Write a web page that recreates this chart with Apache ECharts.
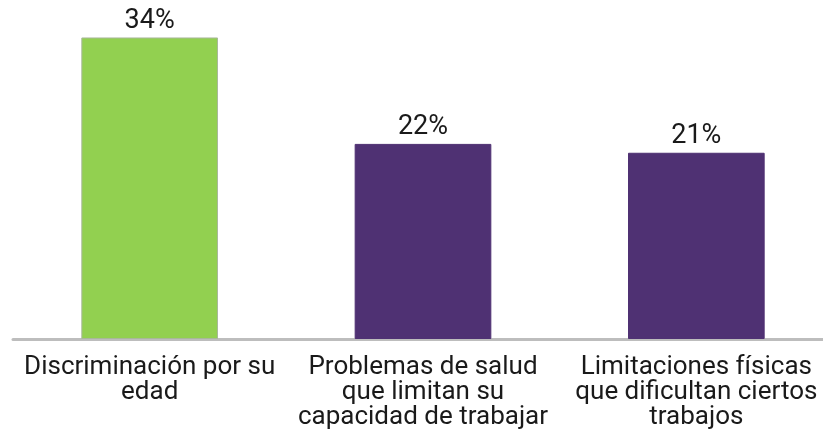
<!DOCTYPE html>
<html>
<head>
<meta charset="utf-8">
<script src="https://cdn.jsdelivr.net/npm/echarts@6/dist/echarts.min.js"></script>
<style>
  html, body { margin: 0; padding: 0; background: #fff; }
  #chart { width: 823px; height: 445px; }
</style>
</head>
<body>
<div id="chart"></div>
<script>
const categories = [
  'Discriminación por su\nedad',
  'Problemas de salud\nque limitan su\ncapacidad de trabajar',
  'Limitaciones físicas\nque dificultan ciertos\ntrabajos'
]
const values = [34, 22, 21]
const barColors = ['#92d050', '#4f3173', '#4f3173']

const fontFamily = 'Roboto, sans-serif'

let chart = echarts.init(document.getElementById('chart'))
chart.setOption({
  animation: false,
  grid: { left: 13, width: 820, top: 2, bottom: 106, containLabel: false, outerBoundsMode: 'none' },
  xAxis: {
    type: 'category',
    data: categories,
    axisLine: { lineStyle: { color: '#bdbdbd', width: 3 } },
    axisTick: { show: false },
    axisLabel: {
      interval: 0,
      margin: 16,
      color: '#1a1a1a',
      fontSize: 26,
      lineHeight: 25,
      fontFamily: fontFamily
    }
  },
  yAxis: {
    type: 'value',
    min: 0,
    max: 38,
    show: false,
    splitLine: { show: false }
  },
  series: [{
    type: 'bar',
    barWidth: '50%',
    data: values.map((v, i) => ({
      value: v,
      itemStyle: { color: barColors[i], borderColor: i === 0 ? '#a8b89a' : barColors[i], borderWidth: 1 }
    })),
    label: {
      show: true,
      position: 'top',
      distance: 3,
      formatter: p => p.value + '%',
      color: '#1a1a1a',
      fontSize: 27,
      fontFamily: fontFamily
    }
  }]
})
window.addEventListener('resize', () => chart.resize())
</script>
</body>
</html>
